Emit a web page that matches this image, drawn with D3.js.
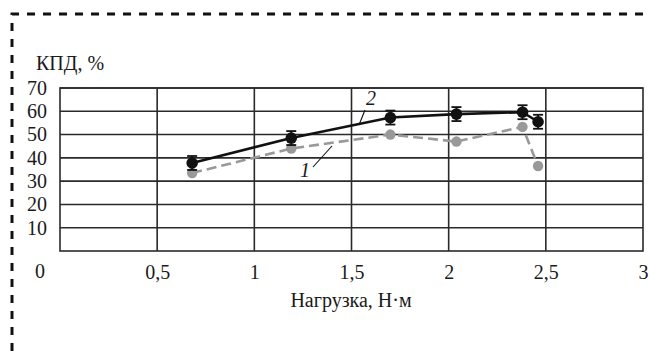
<!DOCTYPE html>
<html>
<head>
<meta charset="utf-8">
<script src="https://cdn.jsdelivr.net/npm/d3@7"></script>
<style>
  html, body { margin: 0; padding: 0; background: #fff; font-family: 'Liberation Serif', serif; }
  svg { display: block; }
</style>
</head>
<body>
<svg id="chart" width="651" height="351" font-family="Liberation Serif" font-size="20">
  <text id="y-title" fill="#1a1a1a">КПД, %</text>
  <text id="x-title" fill="#1a1a1a" text-anchor="middle">Нагрузка, Н·м</text>
</svg>
<script>
// Load (N·m) at each measurement
const loadX = [0.68, 1.19, 1.70, 2.04, 2.38, 2.46];
// Efficiency, curve 1 (grey dashed)
const effCurve1 = [33.5, 44, 50, 47, 53.3, 36.5];
// Efficiency, curve 2 (black solid, with error bars)
const effCurve2 = [37.8, 48.5, 57.3, 58.8, 59.6, 55.5];
const effCurve2Err = [3, 3, 3, 3, 3, 3];
// Axis ticks
const xTicks = [0.5, 1, 1.5, 2, 2.5, 3];
const xTickLabels = ["0,5", "1", "1,5", "2", "2,5", "3"];
const yTicks = [10, 20, 30, 40, 50, 60, 70];

const FONT = "'Liberation Serif', serif";
const INK = "#1a1a1a";

const svg = d3.select("#chart");
const W = 651, H = 351;

const plot = { left: 60, right: 643, top: 88, bottom: 251 };
const x = d3.scaleLinear().domain([0, 3]).range([plot.left, plot.right]);
const y = d3.scaleLinear().domain([0, 70]).range([plot.bottom, plot.top]);

function styleText(sel, size) {
  return sel.attr("font-family", "Liberation Serif").attr("font-size", size)
    .style("font-family", FONT).style("fill", INK);
}

// Dashed frame around the figure (top and left edges visible)
svg.insert("path", ":first-child")
  .attr("d", `M12,${H} L12,14 L${W},14`)
  .attr("fill", "none")
  .attr("stroke", "#111")
  .attr("stroke-width", 3)
  .attr("stroke-dasharray", "8,8");

const grid = svg.append("g").attr("stroke", "#2a2a2a").attr("stroke-width", 1.6).attr("fill", "none");
// Horizontal grid lines
grid.selectAll("line.h").data(yTicks).join("line")
  .attr("x1", plot.left).attr("x2", plot.right)
  .attr("y1", d => y(d)).attr("y2", d => y(d));
// Vertical grid lines
grid.selectAll("line.v").data(xTicks.slice(0, -1)).join("line")
  .attr("y1", plot.top).attr("y2", plot.bottom)
  .attr("x1", d => x(d)).attr("x2", d => x(d));
// Plot frame
grid.append("rect")
  .attr("x", plot.left).attr("y", plot.top)
  .attr("width", plot.right - plot.left).attr("height", plot.bottom - plot.top);

// Y axis labels
const yAxis = d3.axisLeft(y).tickValues(yTicks).tickSize(0).tickPadding(13).tickFormat(d3.format("d"));
svg.append("g").attr("transform", `translate(${plot.left},0)`).call(yAxis)
  .attr("font-family", "Liberation Serif").attr("font-size", 20)
  .call(g => g.select(".domain").remove())
  .call(g => styleText(g.selectAll("text"), 20));

// X axis labels
const xAxis = d3.axisBottom(x).tickValues(xTicks).tickSize(0).tickPadding(14)
  .tickFormat((d, i) => xTickLabels[i]);
svg.append("g").attr("transform", `translate(0,${plot.bottom})`).call(xAxis)
  .attr("font-family", "Liberation Serif").attr("font-size", 20)
  .call(g => g.select(".domain").remove())
  .call(g => styleText(g.selectAll("text"), 20));

// Shared origin label
styleText(svg.append("text").attr("x", 40).attr("y", 278).attr("text-anchor", "middle").text("0"), 20);

// Axis titles
styleText(svg.select("#y-title").attr("x", 36).attr("y", 70), 20);
styleText(svg.select("#x-title").attr("x", 351).attr("y", 307), 20);

const line = d3.line().x(d => x(d[0])).y(d => y(d[1]));
const pts1 = loadX.map((v, i) => [v, effCurve1[i]]);
const pts2 = loadX.map((v, i) => [v, effCurve2[i]]);

// Curve 1: grey dashed
svg.append("path").datum(pts1).attr("d", line)
  .attr("fill", "none").attr("stroke", "#999").attr("stroke-width", 2.6)
  .attr("stroke-dasharray", "10,5");
svg.selectAll("circle.c1").data(pts1).join("circle")
  .attr("cx", d => x(d[0])).attr("cy", d => y(d[1])).attr("r", 5.2).attr("fill", "#999");

// Curve 2: black solid
svg.append("path").datum(pts2).attr("d", line)
  .attr("fill", "none").attr("stroke", "#111").attr("stroke-width", 2.6);

// Error bars on curve 2
const eb = svg.append("g").attr("stroke", "#111").attr("stroke-width", 1.8);
pts2.forEach((d, i) => {
  const cx = x(d[0]), lo = y(d[1] - effCurve2Err[i]), hi = y(d[1] + effCurve2Err[i]);
  eb.append("line").attr("x1", cx).attr("x2", cx).attr("y1", lo).attr("y2", hi);
  eb.append("line").attr("x1", cx - 5).attr("x2", cx + 5).attr("y1", lo).attr("y2", lo);
  eb.append("line").attr("x1", cx - 5).attr("x2", cx + 5).attr("y1", hi).attr("y2", hi);
});
svg.selectAll("circle.c2").data(pts2).join("circle")
  .attr("cx", d => x(d[0])).attr("cy", d => y(d[1])).attr("r", 5.8).attr("fill", "#111");

// Curve labels with leader lines
svg.append("line").attr("x1", 313).attr("y1", 167).attr("x2", 332).attr("y2", 146)
  .attr("stroke", "#111").attr("stroke-width", 1.1);
styleText(svg.append("text").attr("x", 305).attr("y", 177).attr("text-anchor", "middle")
  .style("font-style", "italic").text("1"), 20);
svg.append("line").attr("x1", 365).attr("y1", 110).attr("x2", 359).attr("y2", 125)
  .attr("stroke", "#111").attr("stroke-width", 1.1);
styleText(svg.append("text").attr("x", 371).attr("y", 105).attr("text-anchor", "middle")
  .style("font-style", "italic").text("2"), 20);
</script>
</body>
</html>
